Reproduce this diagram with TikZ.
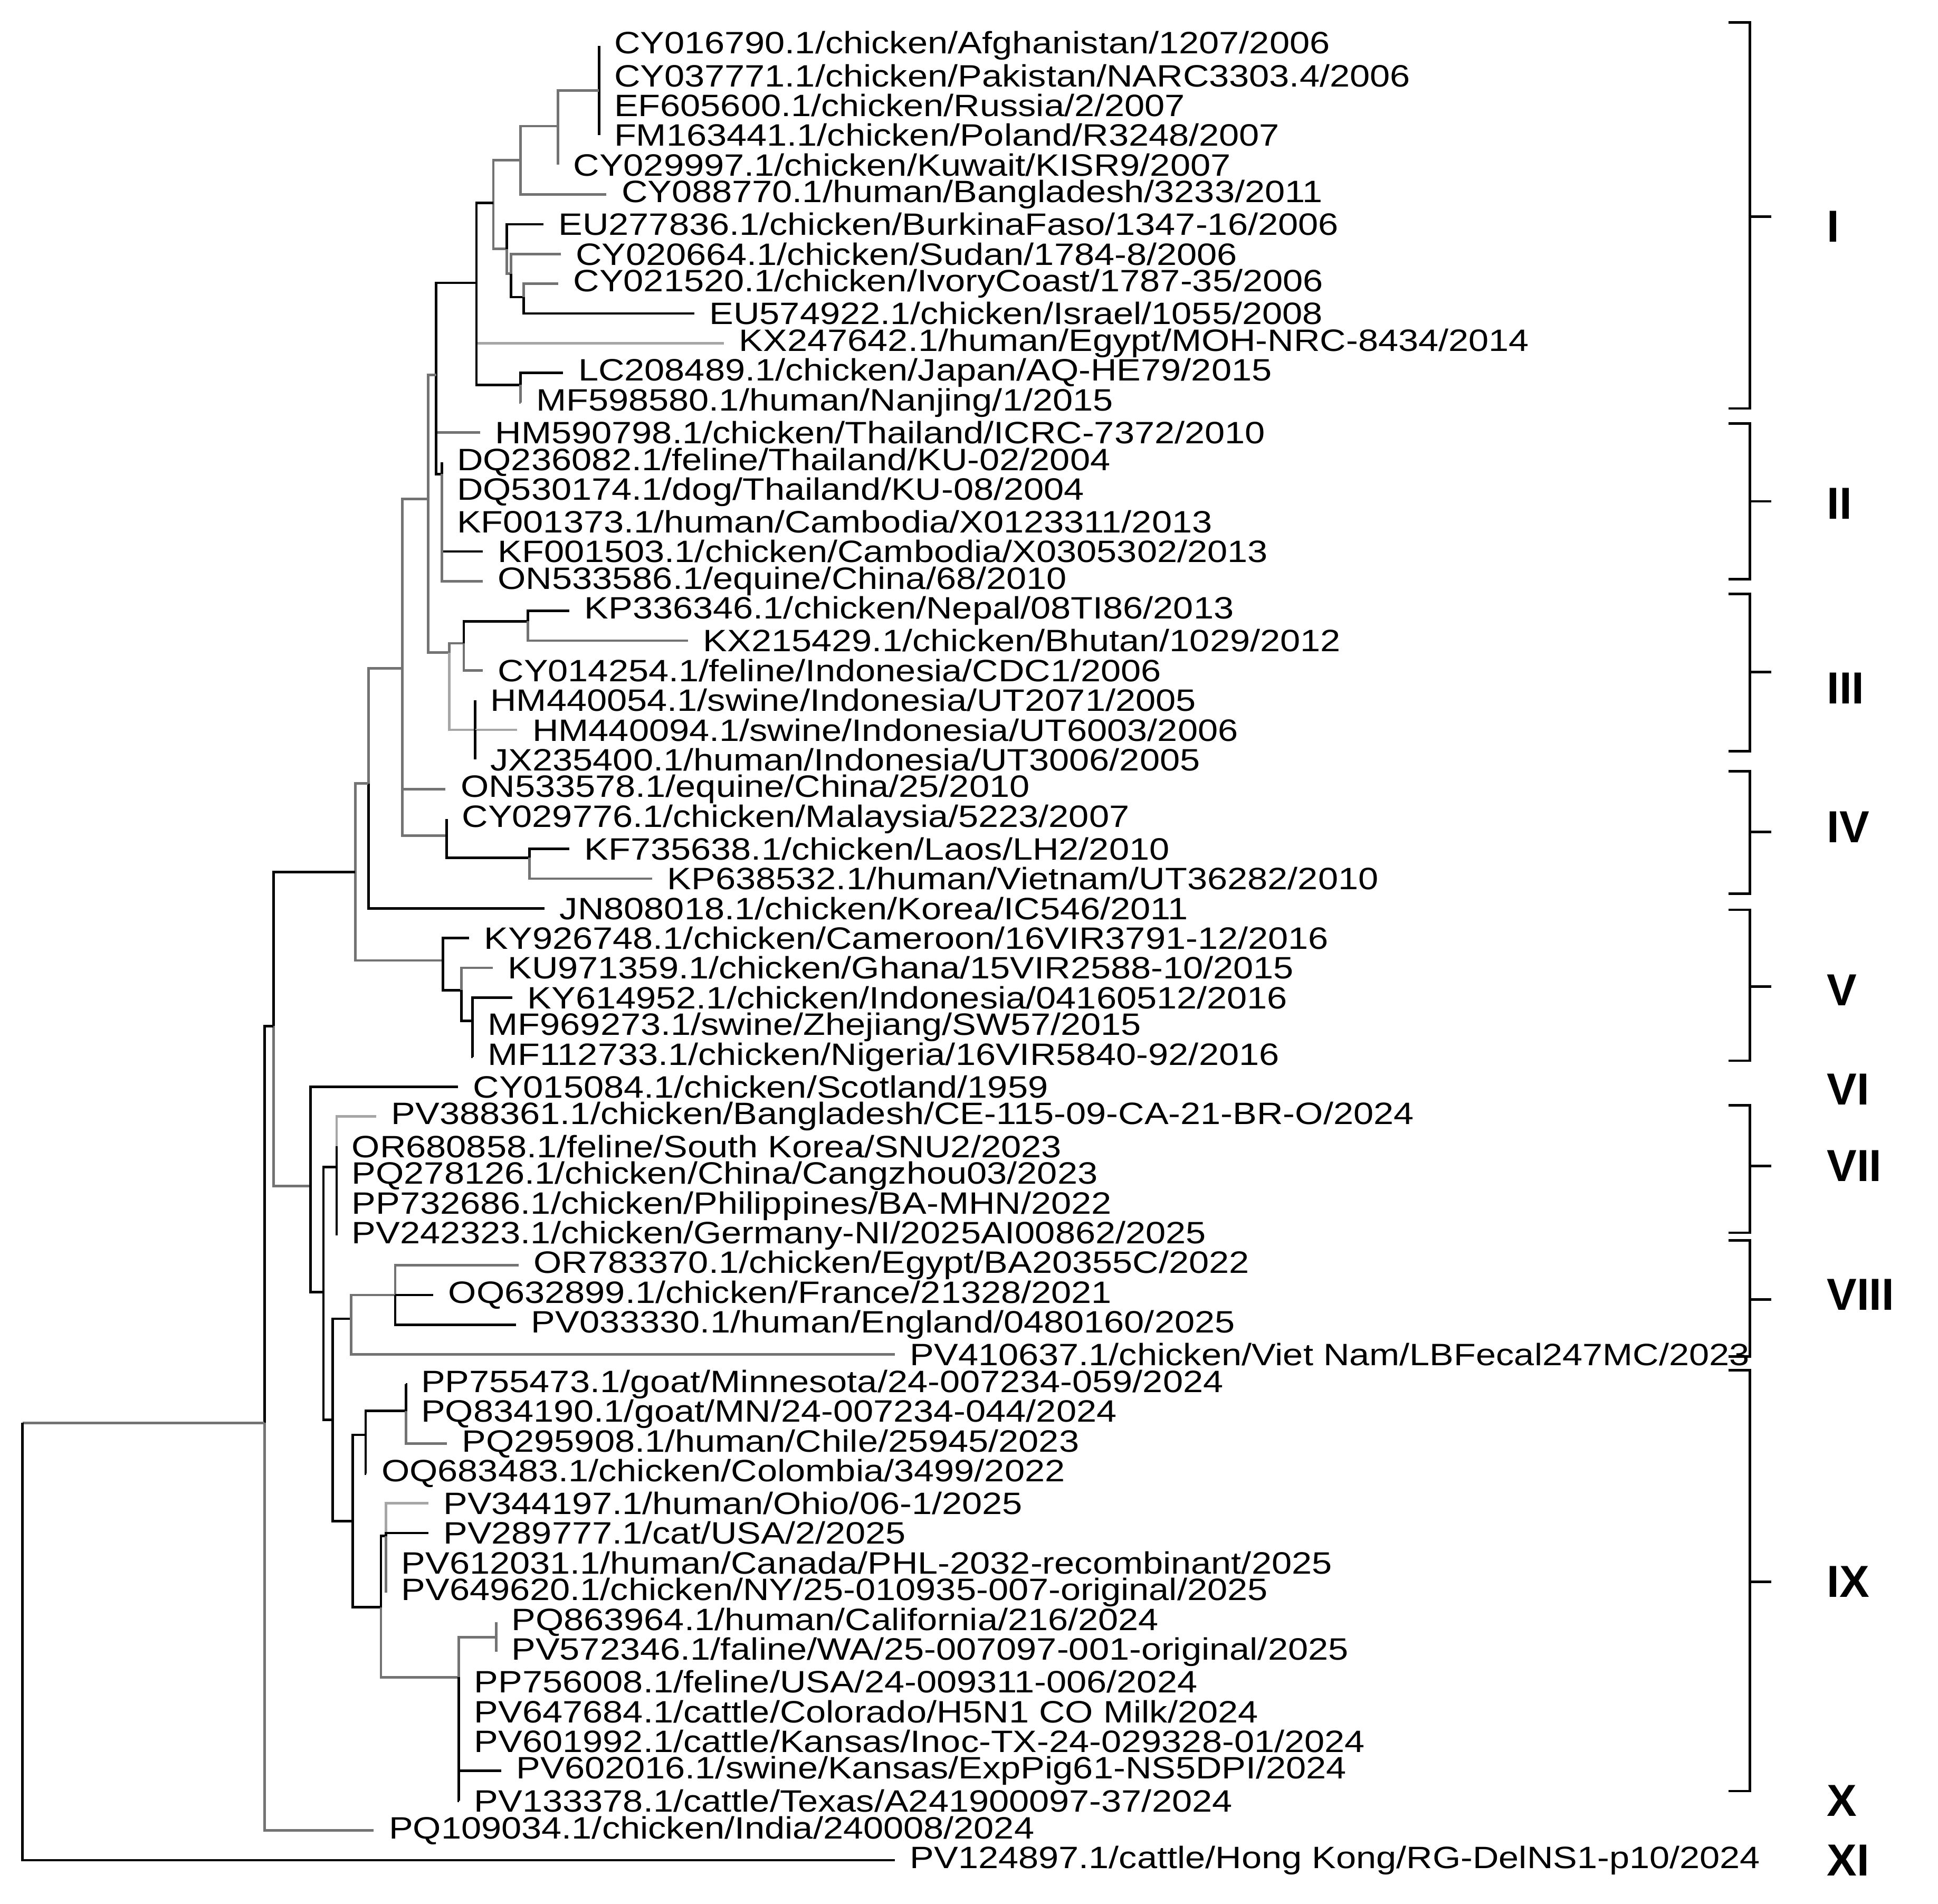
\documentclass[tikz,border=0pt]{standalone}
\usepackage{fontspec}
\setmainfont[FakeStretch=1.17]{Liberation Sans}
\newfontfamily\labfont{Liberation Sans}
\begin{document}
\begin{tikzpicture}[x=0.993pt,y=-0.993pt,
  declare function={Y(\i)=37+24.03*(\i-1);},
  br/.style={line width=2pt,black},
  gb/.style={line width=2pt,black!55},
  lb/.style={line width=2pt,black!35},
  lf/.style={anchor=west,inner sep=0pt,font=\fontsize{24.8}{25}\selectfont},
  clab/.style={anchor=west,inner sep=0pt,font=\labfont\bfseries\fontsize{36}{36}\selectfont},
  brk/.style={line width=2pt,black}]
\useasboundingbox (0,0) rectangle (1566,1538);
\newcommand\leaf[4]{\coordinate (#1) at (#3,{Y(#2)}); \node[lf] (#1t) at ([xshift=12pt]#1) {#4};}
\newcommand\inn[3]{\coordinate (#1) at (#2,{Y(#3)});}
% leaves
\leaf{L1}{1}{484}{CY016790.1/chicken/Afghanistan/1207/2006}
\leaf{L2}{2}{484}{CY037771.1/chicken/Pakistan/NARC3303.4/2006}
\leaf{L3}{3}{484}{EF605600.1/chicken/Russia/2/2007}
\leaf{L4}{4}{484}{FM163441.1/chicken/Poland/R3248/2007}
\leaf{L5}{5}{451}{CY029997.1/chicken/Kuwait/KISR9/2007}
\leaf{L6}{6}{490}{CY088770.1/human/Bangladesh/3233/2011}
\leaf{L7}{7}{439}{EU277836.1/chicken/BurkinaFaso/1347-16/2006}
\leaf{L8}{8}{453}{CY020664.1/chicken/Sudan/1784-8/2006}
\leaf{L9}{9}{451}{CY021520.1/chicken/IvoryCoast/1787-35/2006}
\leaf{L10}{10}{561}{EU574922.1/chicken/Israel/1055/2008}
\leaf{L11}{11}{585}{KX247642.1/human/Egypt/MOH-NRC-8434/2014}
\leaf{L12}{12}{455}{LC208489.1/chicken/Japan/AQ-HE79/2015}
\leaf{L13}{13}{421}{MF598580.1/human/Nanjing/1/2015}
\leaf{L14}{14}{388}{HM590798.1/chicken/Thailand/ICRC-7372/2010}
\leaf{L15}{15}{357}{DQ236082.1/feline/Thailand/KU-02/2004}
\leaf{L16}{16}{357}{DQ530174.1/dog/Thailand/KU-08/2004}
\leaf{L17}{17}{357}{KF001373.1/human/Cambodia/X0123311/2013}
\leaf{L18}{18}{390}{KF001503.1/chicken/Cambodia/X0305302/2013}
\leaf{L19}{19}{390}{ON533586.1/equine/China/68/2010}
\leaf{L20}{20}{460}{KP336346.1/chicken/Nepal/08TI86/2013}
\leaf{L21}{21}{556}{KX215429.1/chicken/Bhutan/1029/2012}
\leaf{L22}{22}{390}{CY014254.1/feline/Indonesia/CDC1/2006}
\leaf{L23}{23}{384}{HM440054.1/swine/Indonesia/UT2071/2005}
\leaf{L24}{24}{418}{HM440094.1/swine/Indonesia/UT6003/2006}
\leaf{L25}{25}{384}{JX235400.1/human/Indonesia/UT3006/2005}
\leaf{L26}{26}{360}{ON533578.1/equine/China/25/2010}
\leaf{L27}{27}{361}{CY029776.1/chicken/Malaysia/5223/2007}
\leaf{L28}{28}{460}{KF735638.1/chicken/Laos/LH2/2010}
\leaf{L29}{29}{527}{KP638532.1/human/Vietnam/UT36282/2010}
\leaf{L30}{30}{440}{JN808018.1/chicken/Korea/IC546/2011}
\leaf{L31}{31}{379}{KY926748.1/chicken/Cameroon/16VIR3791-12/2016}
\leaf{L32}{32}{398}{KU971359.1/chicken/Ghana/15VIR2588-10/2015}
\leaf{L33}{33}{414}{KY614952.1/chicken/Indonesia/04160512/2016}
\leaf{L34}{34}{382}{MF969273.1/swine/Zhejiang/SW57/2015}
\leaf{L35}{35}{382}{MF112733.1/chicken/Nigeria/16VIR5840-92/2016}
\leaf{L36}{36}{370}{CY015084.1/chicken/Scotland/1959}
\leaf{L37}{37}{304}{PV388361.1/chicken/Bangladesh/CE-115-09-CA-21-BR-O/2024}
\leaf{L38}{38}{272}{OR680858.1/feline/South Korea/SNU2/2023}
\leaf{L39}{39}{272}{PQ278126.1/chicken/China/Cangzhou03/2023}
\leaf{L40}{40}{272}{PP732686.1/chicken/Philippines/BA-MHN/2022}
\leaf{L41}{41}{272}{PV242323.1/chicken/Germany-NI/2025AI00862/2025}
\leaf{L42}{42}{419}{OR783370.1/chicken/Egypt/BA20355C/2022}
\leaf{L43}{43}{350}{OQ632899.1/chicken/France/21328/2021}
\leaf{L44}{44}{417}{PV033330.1/human/England/0480160/2025}
\leaf{L45}{45}{723}{PV410637.1/chicken/Viet Nam/LBFecal247MC/2023}
\leaf{L46}{46}{328}{PP755473.1/goat/Minnesota/24-007234-059/2024}
\leaf{L47}{47}{328}{PQ834190.1/goat/MN/24-007234-044/2024}
\leaf{L48}{48}{361}{PQ295908.1/human/Chile/25945/2023}
\leaf{L49}{49}{296}{OQ683483.1/chicken/Colombia/3499/2022}
\leaf{L50}{50}{346}{PV344197.1/human/Ohio/06-1/2025}
\leaf{L51}{51}{346}{PV289777.1/cat/USA/2/2025}
\leaf{L52}{52}{312}{PV612031.1/human/Canada/PHL-2032-recombinant/2025}
\leaf{L53}{53}{312}{PV649620.1/chicken/NY/25-010935-007-original/2025}
\leaf{L54}{54}{401}{PQ863964.1/human/California/216/2024}
\leaf{L55}{55}{401}{PV572346.1/faline/WA/25-007097-001-original/2025}
\leaf{L56}{56}{371}{PP756008.1/feline/USA/24-009311-006/2024}
\leaf{L57}{57}{371}{PV647684.1/cattle/Colorado/H5N1 CO Milk/2024}
\leaf{L58}{58}{371}{PV601992.1/cattle/Kansas/Inoc-TX-24-029328-01/2024}
\leaf{L59}{59}{405}{PV602016.1/swine/Kansas/ExpPig61-NS5DPI/2024}
\leaf{L60}{60}{371}{PV133378.1/cattle/Texas/A241900097-37/2024}
\leaf{L61}{61}{302}{PQ109034.1/chicken/India/240008/2024}
\leaf{L62}{62}{723}{PV124897.1/cattle/Hong Kong/RG-DelNS1-p10/2024}
% internal nodes
\inn{a1}{484}{2.5} \inn{a2}{451}{3.7} \inn{a3}{420.5}{4.85} \inn{a4}{398.6}{6.28}
\inn{a5}{409.5}{7.83} \inn{a6}{413}{8.66} \inn{a7}{423}{9.45} \inn{a8}{385}{8.97}
\inn{a9}{420.5}{12.4} \inn{G}{352.4}{12.07} \inn{b1}{357}{15.4} \inn{H}{346}{16.23}
\inn{c1}{363}{21.4} \inn{c2}{374.8}{21.09} \inn{c3}{426.5}{20.35} \inn{c4}{384}{24}
\inn{P}{325}{21.93} \inn{d1}{361}{27.55} \inn{d2}{427.7}{28.3} \inn{R}{297.7}{25.8}
\inn{S}{287}{28.78} \inn{e1}{358}{31.75} \inn{e2}{372.7}{32.75} \inn{e3}{381.7}{33.78}
\inn{T}{221}{33.96} \inn{U}{251}{39.33} \inn{V}{261.4}{42.9} \inn{W}{272}{38.7}
\inn{X}{268.8}{47.2} \inn{Yn}{283.6}{43.8} \inn{Z}{319.3}{43} \inn{AA}{285}{50.6}
\inn{AB}{295.5}{47.7} \inn{AC}{328.2}{46.9} \inn{AD}{307.8}{53.5} \inn{AE}{312}{51.1}
\inn{AF}{370.6}{55.85} \inn{AH}{401}{54.5} \inn{AG}{213.8}{47.3} \inn{root}{18.2}{47.3}
% connectors
\foreach \c in {L1,L2,L3,L4} \draw[br] (a1) |- (\c);
\draw[gb] (a2) |- (a1); \draw[gb] (a2) |- (L5);
\draw[gb] (a3) |- (a2); \draw[gb] (a3) |- (L6);
\draw[gb] (a4) |- (a3); \draw[gb] (a4) |- (a5);
\draw[br] (a5) |- (L7); \draw[gb] (a5) |- (a6);
\draw[gb] (a6) |- (L8); \draw[br] (a6) |- (a7);
\draw[gb] (a7) |- (L9); \draw[br] (a7) |- (L10);
\draw[br] (a8) |- (a4); \draw[lb] (a8) |- (L11); \draw[br] (a8) |- (a9);
\draw[br] (a9) |- (L12); \draw[gb] (a9) |- (L13);
\draw[br] (G) |- (a8); \draw[gb] (G) |- (L14); \draw[br] (G) |- (b1);
\foreach \c in {L15,L16,L17,L18} \draw[br] (b1) |- (\c);
\draw[gb] (b1) |- (L19);
\draw[gb] (H) |- (G); \draw[gb] (H) |- (c1);
\draw[gb] (c1) |- (c2); \draw[lb] (c1) |- (c4);
\draw[br] (c2) |- (c3); \draw[gb] (c2) |- (L22);
\draw[br] (c3) |- (L20); \draw[gb] (c3) |- (L21);
\draw[br] (c4) |- (L23); \draw[lb] (c4) |- (L24); \draw[br] (c4) |- (L25);
\draw[gb] (P) |- (H); \draw[gb] (P) |- (L26); \draw[gb] (P) |- (d1);
\draw[br] (d1) |- (L27); \draw[br] (d1) |- (d2);
\draw[br] (d2) |- (L28); \draw[gb] (d2) |- (L29);
\draw[gb] (R) |- (P); \draw[br] (R) |- (L30);
\draw[gb] (S) |- (R); \draw[gb] (S) |- (e1);
\draw[br] (e1) |- (L31); \draw[br] (e1) |- (e2);
\draw[gb] (e2) |- (L32); \draw[br] (e2) |- (e3);
\draw[br] (e3) |- (L33); \draw[br] (e3) |- (L34); \draw[br] (e3) |- (L35);
\draw[br] (T) |- (S); \draw[gb] (T) |- (U);
\draw[br] (U) |- (L36); \draw[br] (U) |- (V);
\draw[br] (V) |- (W); \draw[br] (V) |- (X);
\draw[lb] (W) |- (L37); \foreach \c in {L38,L39,L40,L41} \draw[br] (W) |- (\c);
\draw[br] (X) |- (Yn); \draw[br] (X) |- (AA);
\draw[gb] (Yn) |- (Z); \draw[gb] (Yn) |- (L45);
\draw[gb] (Z) |- (L42); \draw[br] (Z) |- (L43); \draw[br] (Z) |- (L44);
\draw[br] (AA) |- (AB); \draw[br] (AA) |- (AD);
\draw[br] (AB) |- (AC); \draw[br] (AB) |- (L49);
\draw[br] (AC) |- (L46); \draw[br] (AC) |- (L47); \draw[gb] (AC) |- (L48);
\draw[br] (AD) |- (AE); \draw[gb] (AD) |- (AF);
\draw[lb] (AE) |- (L50); \draw[br] (AE) |- (L51); \draw[gb] (AE) |- (L52); \draw[gb] (AE) |- (L53);
\draw[gb] (AF) |- (AH); \draw[gb] (AH) |- (L54); \draw[gb] (AH) |- (L55);
\foreach \c in {L56,L57,L58,L60} \draw[br] (AF) |- (\c);
\draw[br] (AF) |- (L59);
\draw[br] (AG) |- (T); \draw[gb] (AG) |- (L61);
\draw[gb] (root) |- (AG); \draw[br] (root) |- (L62);
% clade brackets
\foreach \t/\b/\m/\nm/\ly/\lab in {18/330/175/cI/183/I, 342/468/405/cII/407/II, 480/607/543/cIII/556/III,
  623/722/672/cIV/668/IV, 735/857/797/cV/800/V, 893/996/942/cVII/942/VII, 1002/1096/1050/cVIII/1046/VIII,
  1107/1447/1278/cIX/1278/IX}{
  \coordinate (\nm t) at (1414,\t); \coordinate (\nm b) at (1414,\b); \coordinate (\nm m) at (1414,\m);
  \draw[brk] ([xshift=-17pt]\nm t) -- (\nm t) -- (\nm b) -- ([xshift=-17pt]\nm b);
  \draw[brk] (\nm m) -- ([xshift=17pt]\nm m);
  \node[clab] (\nm l) at (1476,\ly) {\lab};
}
\node[clab] (cVIl) at (1476,880) {VI};
\node[clab] (cXl) at (1476,1455) {X};
\node[clab] (cXIl) at (1476,1503) {XI};
\end{tikzpicture}
\end{document}
